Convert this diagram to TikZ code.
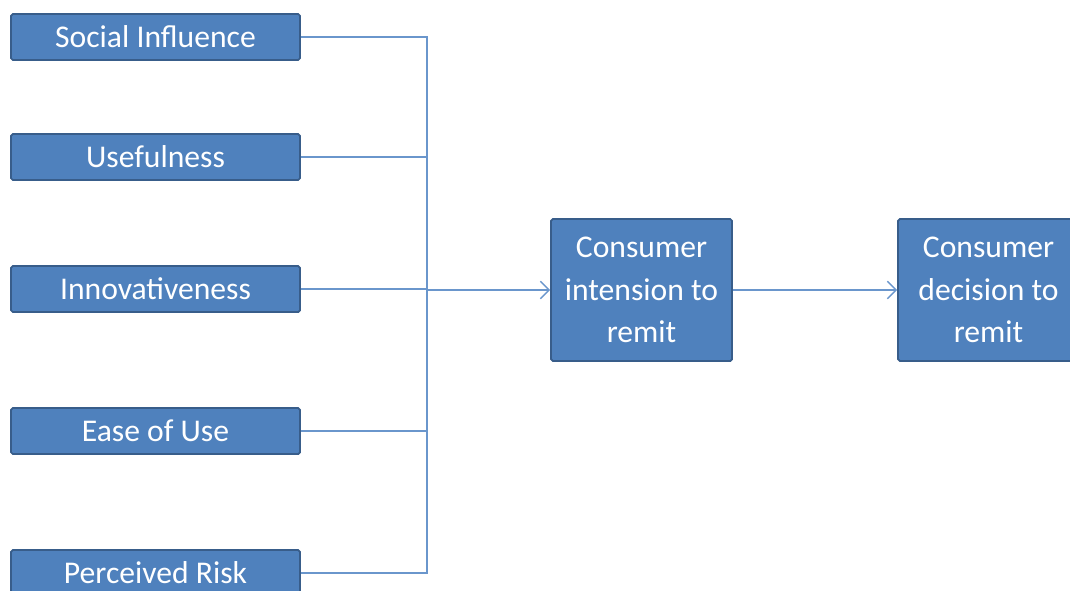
\documentclass[tikz,border=0pt]{standalone}
\usepackage{fontspec}
\setmainfont{Carlito}
\usetikzlibrary{arrows,arrows.meta}

\definecolor{boxblue}{HTML}{4F81BD}
\definecolor{boxedge}{HTML}{385D8A}
\definecolor{linkblue}{HTML}{6A96CC}

\begin{document}
\begin{tikzpicture}[
factor/.style={draw=boxedge,fill=boxblue,line width=1pt,rounded corners=1pt,text=white,font=\fontsize{18}{22}\selectfont,minimum width=5.78cm,minimum height=0.92cm,inner sep=0pt},
stage/.style={draw=boxedge,fill=boxblue,line width=1pt,rounded corners=1pt,text=white,font=\fontsize{18}{24}\selectfont,align=center,minimum width=3.62cm,minimum height=2.84cm,inner sep=0pt},
link/.style={draw=linkblue,line width=0.8pt},
arrow/.style={link,-{Straight Barb[length=5pt,width=10pt]}} ]

\clip (0,0) rectangle (21.4,-11.8);

\node[factor](S) at (3.11,-0.74) {Social Influence};

\node[factor](U) at (3.11,-3.14) {Usefulness};

\node[factor](I) at (3.11,-5.78) {Innovativeness};

\node[factor](E) at (3.11,-8.62) {Ease of Use};

\node[factor](P) at (3.11,-11.46) {Perceived Risk};

\node[stage](N) at (12.83,-5.8) {Consumer\\intension to\\remit};

\node[stage](D) at (19.77,-5.8) {Consumer\\decision to\\remit};

\coordinate (join) at (8.54,-5.8);

% lines into the bus
\draw[link] (S.east) -- (S.east -| join) -- (P.east -| join) -- (P.east);

\draw[link] (U.east) -- (U.east -| join);

\draw[link] (I.east) -- (I.east -| join);

\draw[link] (E.east) -- (E.east -| join);

\draw[arrow] (join) -- (N);

\draw[arrow] (N) -- (D);
\end{tikzpicture}
\end{document}
